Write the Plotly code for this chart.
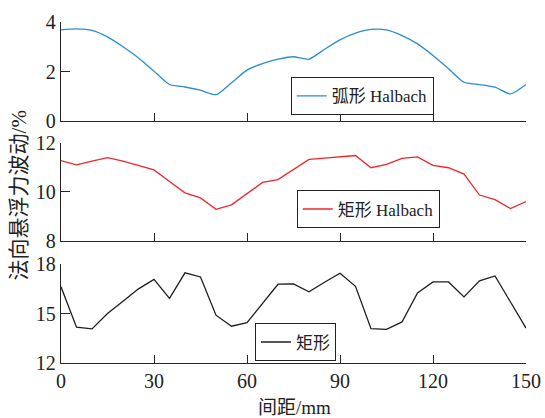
import plotly.graph_objects as go

# Spacing (mm) shared by all three measurements
spacing = [0, 5, 10, 15, 20, 25, 30, 35, 40, 45, 50, 55, 60, 65, 70, 75,
           80, 85, 90, 95, 100, 105, 110, 115, 120, 125, 130, 135, 140, 145, 150]

# Normal levitation force fluctuation (%) for each magnet arrangement
arc_halbach = [3.68, 3.72, 3.66, 3.40, 3.00, 2.55, 2.02, 1.48, 1.38, 1.25, 1.07,
               1.55, 2.06, 2.32, 2.50, 2.60, 2.50, 2.90, 3.28, 3.55, 3.70, 3.68,
               3.45, 3.12, 2.65, 2.12, 1.57, 1.48, 1.37, 1.10, 1.48]
rect_halbach = [11.27, 11.10, 11.25, 11.39, 11.25, 11.08, 10.89, 10.42, 9.96, 9.75,
                9.29, 9.47, 9.93, 10.38, 10.50, 10.90, 11.32, 11.37, 11.42, 11.48,
                10.98, 11.12, 11.36, 11.42, 11.08, 10.98, 10.72, 9.87, 9.68, 9.32, 9.60]
rect = [16.62, 14.17, 14.07, 15.00, 15.75, 16.50, 17.07, 15.92, 17.47, 17.22,
        14.90, 14.23, 14.45, 15.65, 16.78, 16.80, 16.32, 16.90, 17.45, 16.65,
        14.08, 14.04, 14.49, 16.25, 16.92, 16.92, 16.01, 16.98, 17.28, 15.70, 14.12]

x_ticks = [0, 30, 60, 90, 120, 150]
y_ticks_top = [0, 2, 4]
y_ticks_mid = [8, 10, 12]
y_ticks_bot = [12, 15, 18]

FONT = "Liberation Serif, Times New Roman, Noto Sans CJK SC, serif"
AX = "#262626"

fig = go.Figure()
fig.add_trace(go.Scatter(x=spacing, y=arc_halbach, mode="lines", name="弧形 Halbach",
                         line=dict(color="#2a8cd2", width=1.3, shape="spline", smoothing=0.6),
                         xaxis="x", yaxis="y", legend="legend"))
fig.add_trace(go.Scatter(x=spacing, y=rect_halbach, mode="lines", name="矩形 Halbach",
                         line=dict(color="#f0262b", width=1.3),
                         xaxis="x2", yaxis="y2", legend="legend2"))
fig.add_trace(go.Scatter(x=spacing, y=rect, mode="lines", name="矩形",
                         line=dict(color="#1e1e1e", width=1.3),
                         xaxis="x3", yaxis="y3", legend="legend3"))

common_x = dict(range=[0, 150], tickvals=x_ticks, ticks="inside", ticklen=8,
                tickcolor=AX, showline=True, linecolor=AX, linewidth=1.3,
                showgrid=False, zeroline=False, automargin=False)
common_y = dict(ticks="inside", ticklen=9, tickcolor=AX, showline=True,
                linecolor=AX, linewidth=1.3, showgrid=False, zeroline=False,
                automargin=False, tickfont=dict(size=20, family=FONT, color="#222"))

leg = dict(bgcolor="white", bordercolor="#222", borderwidth=1,
           font=dict(size=17, family=FONT, color="#222"),
           xanchor="left", yanchor="top", itemwidth=30)

fig.update_layout(
    width=545, height=418,
    margin=dict(l=61, r=19, t=22, b=55, autoexpand=False),
    paper_bgcolor="white", plot_bgcolor="white",
    font=dict(family=FONT, color="#222"),
    xaxis=dict(common_x, domain=[0, 1], anchor="y", showticklabels=False),
    xaxis2=dict(common_x, domain=[0, 1], anchor="y2", showticklabels=False),
    xaxis3=dict(common_x, domain=[0, 1], anchor="y3",
                tickfont=dict(size=20, family=FONT, color="#222")),
    yaxis=dict(common_y, domain=[0.709, 1.0], range=[0, 4], tickvals=y_ticks_top, anchor="x"),
    yaxis2=dict(common_y, domain=[0.358, 0.646], range=[8, 12], tickvals=y_ticks_mid, anchor="x2"),
    yaxis3=dict(common_y, domain=[0.0, 0.29], range=[12, 18], tickvals=y_ticks_bot, anchor="x3"),
    legend=dict(leg, x=0.494, y=0.838),
    legend2=dict(leg, x=0.507, y=0.506),
    legend3=dict(leg, x=0.417, y=0.116),
    showlegend=True,
    annotations=[
        dict(text="法向悬浮力波动/%", textangle=-90, xref="paper", yref="paper",
             x=-0.090, y=0.492, xanchor="center", yanchor="middle", showarrow=False,
             font=dict(size=21, family=FONT, color="#222")),
        dict(text="间距/mm", xref="paper", yref="paper",
             x=0.503, y=-0.13, xanchor="center", yanchor="middle", showarrow=False,
             font=dict(size=19, family=FONT, color="#222")),
    ],
)

fig.write_html("out.html")
